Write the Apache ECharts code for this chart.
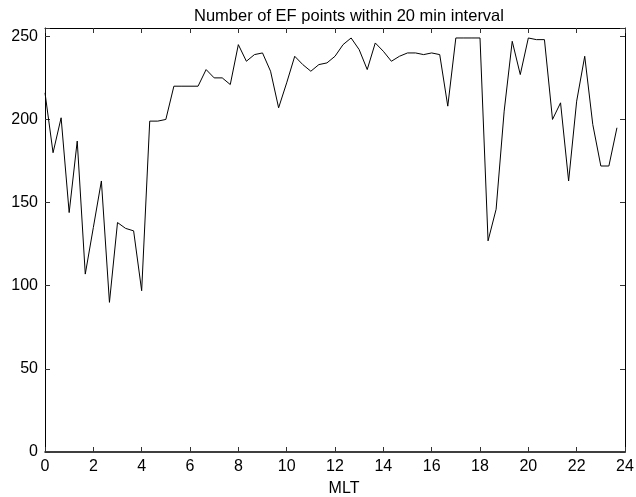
<!DOCTYPE html>
<html>
<head>
<meta charset="utf-8">
<script src="https://cdn.jsdelivr.net/npm/echarts@6/dist/echarts.min.js"></script>
<style>
  html, body { margin: 0; padding: 0; background: #fff; }
  #chart { width: 636px; height: 497px; }
</style>
</head>
<body>
<div id="chart"></div>
<script>
// Count of EF samples in each 20-minute MLT bin
const binMinutes = 20;
const efCounts = [
  216, 180, 201, 144, 187, 107, 135, 163, 90, 138, 134.5, 133,
  97, 199, 199, 200, 220, 220, 220, 220, 230, 225, 225, 221,
  245, 235, 239, 240, 229, 207, 222, 238, 233, 229, 233, 234,
  238, 245, 249, 242, 230, 246, 241, 235, 238, 240, 240, 239,
  240, 239, 208, 249, 249, 249, 249, 127, 146, 205, 247, 227,
  249, 248, 248, 200, 210, 163, 211, 238, 197, 172, 172, 195
];
const xTicks = [0, 2, 4, 6, 8, 10, 12, 14, 16, 18, 20, 22, 24];
const yTicks = [0, 50, 100, 150, 200, 250];

// MLT (hours) at the start of each bin
const mlt = efCounts.map((_, i) => i * binMinutes / 60);
const points = efCounts.map((v, i) => [mlt[i], v]);

const font = 'Liberation Sans, Arial, Helvetica, sans-serif';
const frame = { lineStyle: { color: '#000', width: 1 } };
const tickIn = { show: true, inside: true, length: 5, lineStyle: { color: '#333', width: 1 } };

const chart = echarts.init(document.getElementById('chart'), null, { renderer: 'canvas' });
chart.setOption({
  animation: false,
  backgroundColor: '#fff',
  title: {
    text: 'Number of EF points within 20 min interval',
    left: 189,
    top: 3,
    textStyle: { fontFamily: font, fontSize: 16.5, fontWeight: 'normal', color: '#000' }
  },
  grid: { left: 45, right: 11, top: 28, bottom: 45, containLabel: false, outerBoundsMode: 'none' },
  xAxis: [
    {
      type: 'value', min: xTicks[0], max: xTicks[xTicks.length - 1], interval: 2,
      position: 'bottom',
      axisLine: { show: true, onZero: false, lineStyle: { color: '#000', width: 1.5 } },
      axisTick: tickIn,
      splitLine: { show: false },
      axisLabel: {
        fontFamily: font, fontSize: 16, color: '#000', margin: 7,
        formatter: v => (xTicks.includes(v) ? String(v) : '')
      },
      name: 'MLT',
      nameLocation: 'middle',
      nameGap: 29,
      nameTextStyle: { fontFamily: font, fontSize: 16, color: '#000', padding: [0, 0, 0, 18] }
    },
    {
      type: 'value', min: xTicks[0], max: xTicks[xTicks.length - 1], interval: 2,
      position: 'top',
      axisLine: { show: true, onZero: false, ...frame },
      axisTick: tickIn,
      axisLabel: { show: false },
      splitLine: { show: false }
    }
  ],
  yAxis: [
    {
      type: 'value', min: 0, max: 255, interval: 50,
      position: 'left',
      axisLine: { show: true, onZero: false, ...frame },
      axisTick: tickIn,
      splitLine: { show: false },
      axisLabel: {
        fontFamily: font, fontSize: 16, color: '#000', margin: 7,
        formatter: v => (yTicks.includes(v) ? String(v) : '')
      }
    },
    {
      type: 'value', min: 0, max: 255, interval: 50,
      position: 'right',
      axisLine: { show: true, onZero: false, ...frame },
      axisTick: tickIn,
      axisLabel: { show: false },
      splitLine: { show: false }
    }
  ],
  series: [
    {
      type: 'line',
      data: points,
      xAxisIndex: 0,
      yAxisIndex: 0,
      showSymbol: false,
      symbol: 'none',
      lineStyle: { color: '#000', width: 1 },
      silent: true
    }
  ]
});
</script>
</body>
</html>
